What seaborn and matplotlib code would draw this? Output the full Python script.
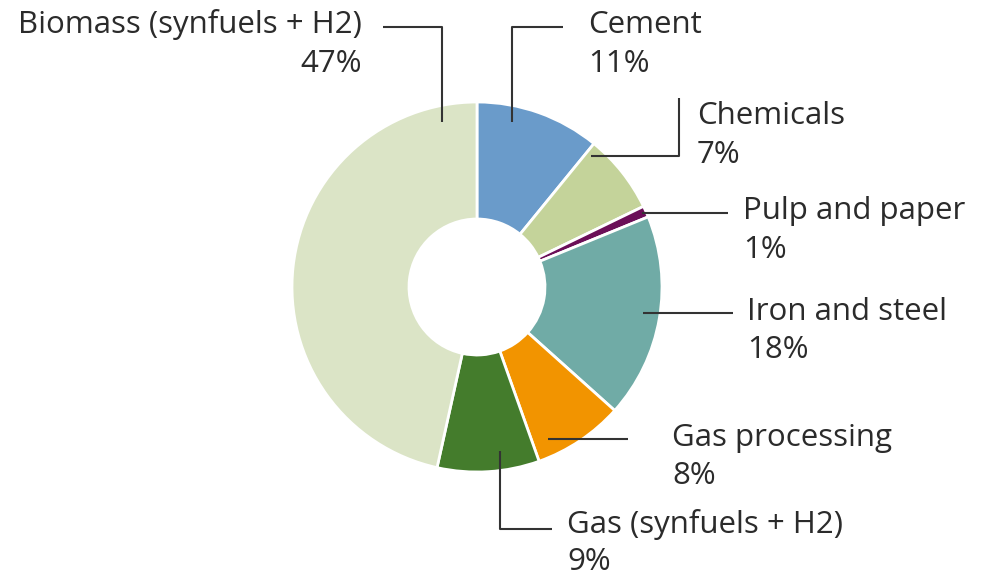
import numpy as np
import matplotlib
matplotlib.use('Agg')
import matplotlib.pyplot as plt
import seaborn as sns

# data
sectors = ['Cement', 'Chemicals', 'Pulp and paper', 'Iron and steel',
           'Gas processing', 'Gas (synfuels + H2)', 'Biomass (synfuels + H2)']
shares = [11, 7, 1, 18, 8, 9, 47]
colors = ['#6a9bca', '#c4d39a', '#6b0f58', '#70aba6',
          '#f29400', '#447c2c', '#dbe4c6']

# layout (pixel space, y down)
center = (477, 287)
r_out, r_in = 185, 68
# leader anchor: angle clockwise from 12 o'clock, radius
anchor_ang = [12, 41, 66, 99, 155, 172, -12]
anchor_rad = [169, 174, 181, 168, 168, 166, 169]
# leader shape: kind, params
leaders = [('vh', 27, 563), ('hv', 679, 98), ('h', 728), ('h', 733),
           ('h', 628), ('vh', 529, 552), ('vh', 27, 383)]
# text: x, baseline of name, baseline of pct, ha
text_x = [588, 697, 743, 747, 672, 567, 362]
name_y = [33, 124, 219, 320, 446, 533, 33]
pct_y = [72, 163, 258, 358, 484, 570, 72]
text_ha = ['left'] * 6 + ['right']

sns.set_theme(style='white')
plt.rcParams['font.family'] = ['Open Sans', 'DejaVu Sans']

fig = plt.figure(figsize=(9.88, 5.78), dpi=100)
ax = fig.add_axes([0, 0, 1, 1])

ax.pie(shares, colors=colors, center=center, radius=r_out,
       startangle=-90, counterclock=True,
       wedgeprops=dict(width=r_out - r_in, edgecolor='white', linewidth=2))

ax.set_xlim(0, 988)
ax.set_ylim(578, 0)
ax.set_aspect('equal')
ax.axis('off')

line_color = '#333333'
text_color = '#2b2b2b'
for i, name in enumerate(sectors):
    a = np.deg2rad(anchor_ang[i])
    ax_ = center[0] + anchor_rad[i] * np.sin(a)
    ay_ = center[1] - anchor_rad[i] * np.cos(a)
    kind = leaders[i]
    if kind[0] == 'vh':
        xs = [ax_, ax_, kind[2]]
        ys = [ay_, kind[1], kind[1]]
    elif kind[0] == 'hv':
        xs = [ax_, kind[1], kind[1]]
        ys = [ay_, ay_, kind[2]]
    else:
        xs = [ax_, kind[1]]
        ys = [ay_, ay_]
    ax.plot(xs, ys, color=line_color, lw=1.5, solid_capstyle='butt')

    ax.text(text_x[i], name_y[i], name, ha=text_ha[i], va='baseline',
            fontsize=22.5, color=text_color)
    ax.text(text_x[i], pct_y[i], f"{shares[i]}%", ha=text_ha[i], va='baseline',
            fontsize=22.5, color=text_color)

fig.savefig('out.png', dpi=100, facecolor='white')
